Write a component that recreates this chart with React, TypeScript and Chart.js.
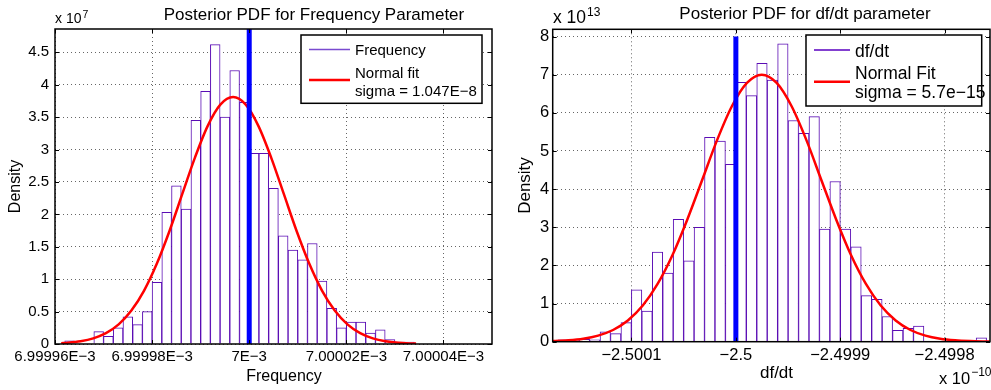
import React, { useEffect, useRef } from "react";
import { Chart, registerables } from "chart.js";

Chart.register(...registerables);

const FONT = '"Liberation Sans", Arial, Helvetica, sans-serif';

// ---------------- Left panel: Frequency ----------------
// x in units of 1e-9 relative to 7E-3, density in units of 1e7
const freqBinStart = -38;
const freqBinWidth = 2;
const freqDensity = [
  0.05, 0, 0, 0.19, 0.12, 0.25, 0.42, 0.3, 0.5, 0.95, 2.03, 2.44, 2.08, 3.45, 3.9, 4.62, 3.5, 4.22,
  3.73, 2.94, 2.94, 2.4, 1.67, 1.45, 1.3, 1.55, 0.97, 0.55, 0.25, 0.34, 0.34, 0.17, 0.22, 0.07, 0.03, 0.03,
];
const freqFitX = [
  -38.72, -37.36, -34.74, -32.12, -29.51, -26.89, -24.27, -21.65, -19.04, -16.42, -13.8, -11.18, -8.57, -5.95,
  -3.33, -0.71, 1.91, 4.52, 7.14, 9.76, 12.38, 14.99, 17.61, 20.23, 22.85, 25.46, 28.08, 30.7, 33.32, 34.36,
];
const freqFitY = [
  0.0126, 0.019, 0.042, 0.087, 0.167, 0.303, 0.516, 0.824, 1.237, 1.744, 2.311, 2.876, 3.362, 3.693, 3.81,
  3.693, 3.362, 2.876, 2.311, 1.744, 1.237, 0.824, 0.516, 0.303, 0.167, 0.087, 0.042, 0.019, 0.0083, 0.0058,
];
const freqTrueValue = 0;
const freqXMin = -40;
const freqXMax = 50;
const freqYMax = 4.86;
const freqXTicks = [-40, -20, 0, 20, 40];
const freqXTickLabels = ["6.99996E\u22123", "6.99998E\u22123", "7E\u22123", "7.00002E\u22123", "7.00004E\u22123"];
const freqYTicks = [0, 0.5, 1, 1.5, 2, 2.5, 3, 3.5, 4, 4.5];
const freqYTickLabels = ["0", "0.5", "1", "1.5", "2", "2.5", "3", "3.5", "4", "4.5"];

// ---------------- Right panel: df/dt ----------------
// x in units of 1e-14 relative to -2.5E-10, density in units of 1e13
const dfdtBinStart = -1.7017;
const dfdtBinWidth = 0.1001;
const dfdtDensity = [
  0.05, 0.03, 0.06, 0.05, 0.26, 0.21, 0.5, 1.36, 0.8, 2.35, 1.8, 3.21, 2.12, 3.0, 5.36, 5.26, 4.65, 6.8, 6.45,
  7.3, 6.86, 7.81, 5.8, 5.46, 5.9, 2.95, 4.2, 2.95, 2.49, 1.21, 1.11, 0.66, 0.3, 0.35, 0.41, 0, 0, 0.04, 0, 0, 0.1,
];
const dfdtFitX = [
  -1.8, -1.747, -1.605, -1.462, -1.32, -1.177, -1.035, -0.892, -0.75, -0.607, -0.465, -0.322, -0.18, -0.037,
  0.106, 0.248, 0.391, 0.533, 0.676, 0.818, 0.961, 1.103, 1.246, 1.388, 1.531, 1.673, 1.816, 1.958, 2.101,
  2.243, 2.386, 2.443,
];
const dfdtFitY = [
  0.011, 0.0153, 0.0356, 0.0777, 0.16, 0.307, 0.557, 0.947, 1.514, 2.273, 3.205, 4.246, 5.284, 6.178, 6.784, 7.0,
  6.784, 6.178, 5.284, 4.246, 3.205, 2.273, 1.514, 0.947, 0.557, 0.307, 0.16, 0.0777, 0.0356, 0.0153, 0.0062,
  0.0042,
];
const dfdtTrueValue = 0;
const dfdtTrueTop = 8;
const dfdtXMin = -1.755;
const dfdtXMax = 2.435;
const dfdtYMax = 8.19;
const dfdtXTicks = [-1, 0, 1, 2];
const dfdtXTickLabels = ["\u22122.5001", "\u22122.5", "\u22122.4999", "\u22122.4998"];
const dfdtYTicks = [0, 1, 2, 3, 4, 5, 6, 7, 8];
const dfdtYTickLabels = ["0", "1", "2", "3", "4", "5", "6", "7", "8"];

const BAR_EDGE = "#5a0cb4";

const decorPlugin = {
  id: "decor",
  afterDatasetsDraw(chart: any, _args: any, opts: any) {
    const { ctx, chartArea: a, scales } = chart;
    ctx.save();
    ctx.strokeStyle = "#000";
    ctx.lineWidth = 1;
    const tl = opts.tickLen;
    ctx.beginPath();
    scales.x.ticks.forEach((t: any) => {
      const px = Math.round(scales.x.getPixelForValue(t.value)) + 0.5;
      ctx.moveTo(px, a.bottom);
      ctx.lineTo(px, a.bottom - tl);
      ctx.moveTo(px, a.top);
      ctx.lineTo(px, a.top + tl);
    });
    scales.y.ticks.forEach((t: any) => {
      const py = Math.round(scales.y.getPixelForValue(t.value)) + 0.5;
      ctx.moveTo(a.left, py);
      ctx.lineTo(a.left + tl, py);
      ctx.moveTo(a.right, py);
      ctx.lineTo(a.right - tl, py);
    });
    ctx.stroke();
    ctx.lineWidth = 1.5;
    ctx.strokeRect(a.left, a.top, a.right - a.left, a.bottom - a.top);
    ctx.restore();
  },
  afterDraw(chart: any, _args: any, opts: any) {
    const ctx = chart.ctx as CanvasRenderingContext2D;
    ctx.save();
    ctx.fillStyle = "#000";
    ctx.textBaseline = "alphabetic";
    (opts.texts || []).forEach((t: any) => {
      ctx.font = `${t.size}px ${FONT}`;
      ctx.textAlign = t.align || "center";
      if (t.rotate) {
        ctx.save();
        ctx.translate(t.x, t.y);
        ctx.rotate(-Math.PI / 2);
        ctx.textBaseline = "middle";
        ctx.fillText(t.text, 0, 0);
        ctx.restore();
      } else {
        ctx.fillText(t.text, t.x, t.y);
      }
    });
    (opts.sups || []).forEach((s: any) => {
      ctx.textAlign = "left";
      ctx.font = `${s.size}px ${FONT}`;
      ctx.fillText(s.base, s.x, s.y);
      const w = ctx.measureText(s.base).width;
      ctx.font = `${s.supSize}px ${FONT}`;
      ctx.fillText(s.sup, s.x + w + 1, s.supY);
    });
    const lg = opts.legend;
    if (lg) {
      ctx.fillStyle = "#fff";
      ctx.fillRect(lg.x, lg.y, lg.w, lg.h);
      ctx.strokeStyle = "#000";
      ctx.lineWidth = 1.5;
      ctx.strokeRect(lg.x, lg.y, lg.w, lg.h);
      ctx.fillStyle = "#000";
      ctx.textAlign = "left";
      ctx.font = `${lg.size}px ${FONT}`;
      lg.items.forEach((it: any) => {
        ctx.strokeStyle = it.color;
        ctx.lineWidth = it.width;
        ctx.beginPath();
        ctx.moveTo(lg.lineX1, it.lineY);
        ctx.lineTo(lg.lineX2, it.lineY);
        ctx.stroke();
        it.lines.forEach((ln: any) => ctx.fillText(ln.text, lg.textX, ln.y));
      });
    }
    ctx.restore();
  },
};

function buildConfig(p: any): any {
  const bars = p.density.map((y: number, i: number) => ({ x: p.binStart + (i + 0.5) * p.binWidth, y }));
  const fit = p.fitX.map((x: number, i: number) => ({ x, y: p.fitY[i] }));
  const truth = [
    { x: p.trueValue, y: 0 },
    { x: p.trueValue, y: p.trueTop },
  ];
  const labelFor = (vals: number[], labels: string[]) => (v: any) => {
    const i = vals.findIndex((q) => Math.abs(q - v) < 1e-9);
    return i >= 0 ? labels[i] : "";
  };
  return {
    type: "bar",
    data: {
      datasets: [
        {
          type: "line",
          data: truth,
          borderColor: "#0000ff",
          borderWidth: 5,
          pointRadius: 0,
          fill: false,
          order: 1,
        },
        {
          type: "line",
          data: fit,
          borderColor: "#ff0000",
          borderWidth: 2.5,
          pointRadius: 0,
          fill: false,
          cubicInterpolationMode: "monotone",
          order: 2,
        },
        {
          type: "bar",
          data: bars,
          backgroundColor: "#ffffff",
          borderColor: BAR_EDGE,
          borderWidth: 1,
          barPercentage: 1,
          categoryPercentage: 1,
          order: 3,
        },
      ],
    },
    options: {
      responsive: false,
      animation: false,
      events: [],
      layout: { padding: p.padding },
      plugins: {
        legend: { display: false },
        tooltip: { enabled: false },
        title: { display: false },
        decor: p.decor,
      },
      scales: {
        x: {
          type: "linear",
          min: p.xMin,
          max: p.xMax,
          bounds: "data",
          offset: false,
          afterFit: (s: any) => {
            s.height = p.xAxisHeight;
          },
          afterBuildTicks: (s: any) => {
            s.ticks = p.xTicks.map((v: number) => ({ value: v }));
          },
          grid: { offset: false, color: "rgba(0,0,0,0.6)", lineWidth: 1, drawTicks: false, borderDash: [1, 3] },
          border: { display: false, dash: [1, 3] },
          ticks: {
            autoSkip: false,
            maxRotation: 0,
            minRotation: 0,
            padding: p.xTickPad,
            color: "#000",
            font: { family: FONT, size: p.tickSize },
            callback: labelFor(p.xTicks, p.xTickLabels),
          },
        },
        y: {
          type: "linear",
          min: 0,
          max: p.yMax,
          bounds: "data",
          afterFit: (s: any) => {
            s.width = p.yAxisWidth;
          },
          afterBuildTicks: (s: any) => {
            s.ticks = p.yTicks.map((v: number) => ({ value: v }));
          },
          grid: { color: "rgba(0,0,0,0.6)", lineWidth: 1, drawTicks: false, borderDash: [1, 3] },
          border: { display: false, dash: [1, 3] },
          ticks: {
            padding: p.yTickPad,
            color: "#000",
            font: { family: FONT, size: p.tickSize },
            callback: labelFor(p.yTicks, p.yTickLabels),
          },
        },
      },
    },
    plugins: [decorPlugin],
  };
}

const leftSpec = {
  density: freqDensity,
  binStart: freqBinStart,
  binWidth: freqBinWidth,
  fitX: freqFitX,
  fitY: freqFitY,
  trueValue: freqTrueValue,
  trueTop: freqYMax,
  xMin: freqXMin,
  xMax: freqXMax,
  yMax: freqYMax,
  xTicks: freqXTicks,
  xTickLabels: freqXTickLabels,
  yTicks: freqYTicks,
  yTickLabels: freqYTickLabels,
  padding: { top: 29, right: 8, left: 0, bottom: 0 },
  xAxisHeight: 46,
  yAxisWidth: 55,
  xTickPad: 4,
  yTickPad: 6,
  tickSize: 15,
  decor: {
    tickLen: 4,
    texts: [
      { text: "Posterior PDF for Frequency Parameter", x: 314, y: 20, size: 17 },
      { text: "Frequency", x: 284, y: 380.5, size: 16 },
      { text: "Density", x: 16, y: 186.5, size: 16, rotate: true },
    ],
    sups: [{ base: "x 10", sup: "7", x: 55, y: 23.3, size: 14, supSize: 10.5, supY: 17.5 }],
    legend: {
      x: 301,
      y: 35,
      w: 181,
      h: 68.3,
      size: 15,
      lineX1: 309,
      lineX2: 350,
      textX: 355,
      items: [
        { color: "#7a4ad0", width: 1.5, lineY: 49.5, lines: [{ text: "Frequency", y: 54.5 }] },
        {
          color: "#ff0000",
          width: 2.5,
          lineY: 80,
          lines: [
            { text: "Normal fit", y: 77.5 },
            { text: "sigma = 1.047E\u22128", y: 95.7 },
          ],
        },
      ],
    },
  },
};

const rightSpec = {
  density: dfdtDensity,
  binStart: dfdtBinStart,
  binWidth: dfdtBinWidth,
  fitX: dfdtFitX,
  fitY: dfdtFitY,
  trueValue: dfdtTrueValue,
  trueTop: dfdtTrueTop,
  xMin: dfdtXMin,
  xMax: dfdtXMax,
  yMax: dfdtYMax,
  xTicks: dfdtXTicks,
  xTickLabels: dfdtXTickLabels,
  yTicks: dfdtYTicks,
  yTickLabels: dfdtYTickLabels,
  padding: { top: 29.3, right: 1, left: 0, bottom: 0 },
  xAxisHeight: 48.3,
  yAxisWidth: 52.7,
  xTickPad: 4,
  yTickPad: 3.5,
  tickSize: 16.5,
  decor: {
    tickLen: 4,
    texts: [
      { text: "Posterior PDF for df/dt parameter", x: 305, y: 19, size: 17 },
      { text: "df/dt", x: 276.5, y: 377.5, size: 17 },
      { text: "Density", x: 25.5, y: 185.5, size: 17, rotate: true },
    ],
    sups: [
      { base: "x 10", sup: "13", x: 53, y: 23.3, size: 17.5, supSize: 12, supY: 16 },
      { base: "x 10", sup: "\u221210", x: 439, y: 384, size: 16.5, supSize: 12, supY: 376 },
    ],
    legend: {
      x: 306,
      y: 35,
      w: 175.7,
      h: 71,
      size: 17.5,
      lineX1: 314,
      lineX2: 350,
      textX: 355,
      items: [
        { color: "#5a00c0", width: 1.5, lineY: 50, lines: [{ text: "df/dt", y: 57 }] },
        {
          color: "#ff0000",
          width: 2.5,
          lineY: 81.7,
          lines: [
            { text: "Normal Fit", y: 79 },
            { text: "sigma = 5.7e\u221215", y: 98.2 },
          ],
        },
      ],
    },
  },
};

function Panel({ left, width, spec }: { left: number; width: number; spec: any }) {
  const ref = useRef<HTMLCanvasElement>(null);
  useEffect(() => {
    const chart = new Chart(ref.current as HTMLCanvasElement, buildConfig(spec));
    return () => chart.destroy();
  }, [spec]);
  return (
    <canvas
      ref={ref}
      width={width}
      height={390}
      style={{ position: "absolute", left, top: 0, width, height: 390 }}
    />
  );
}

export default function App() {
  return (
    <div style={{ position: "fixed", left: 0, top: 0, width: 991, height: 390, background: "#fff" }}>
      <Panel left={0} width={500} spec={leftSpec} />
      <Panel left={500} width={491} spec={rightSpec} />
    </div>
  );
}
